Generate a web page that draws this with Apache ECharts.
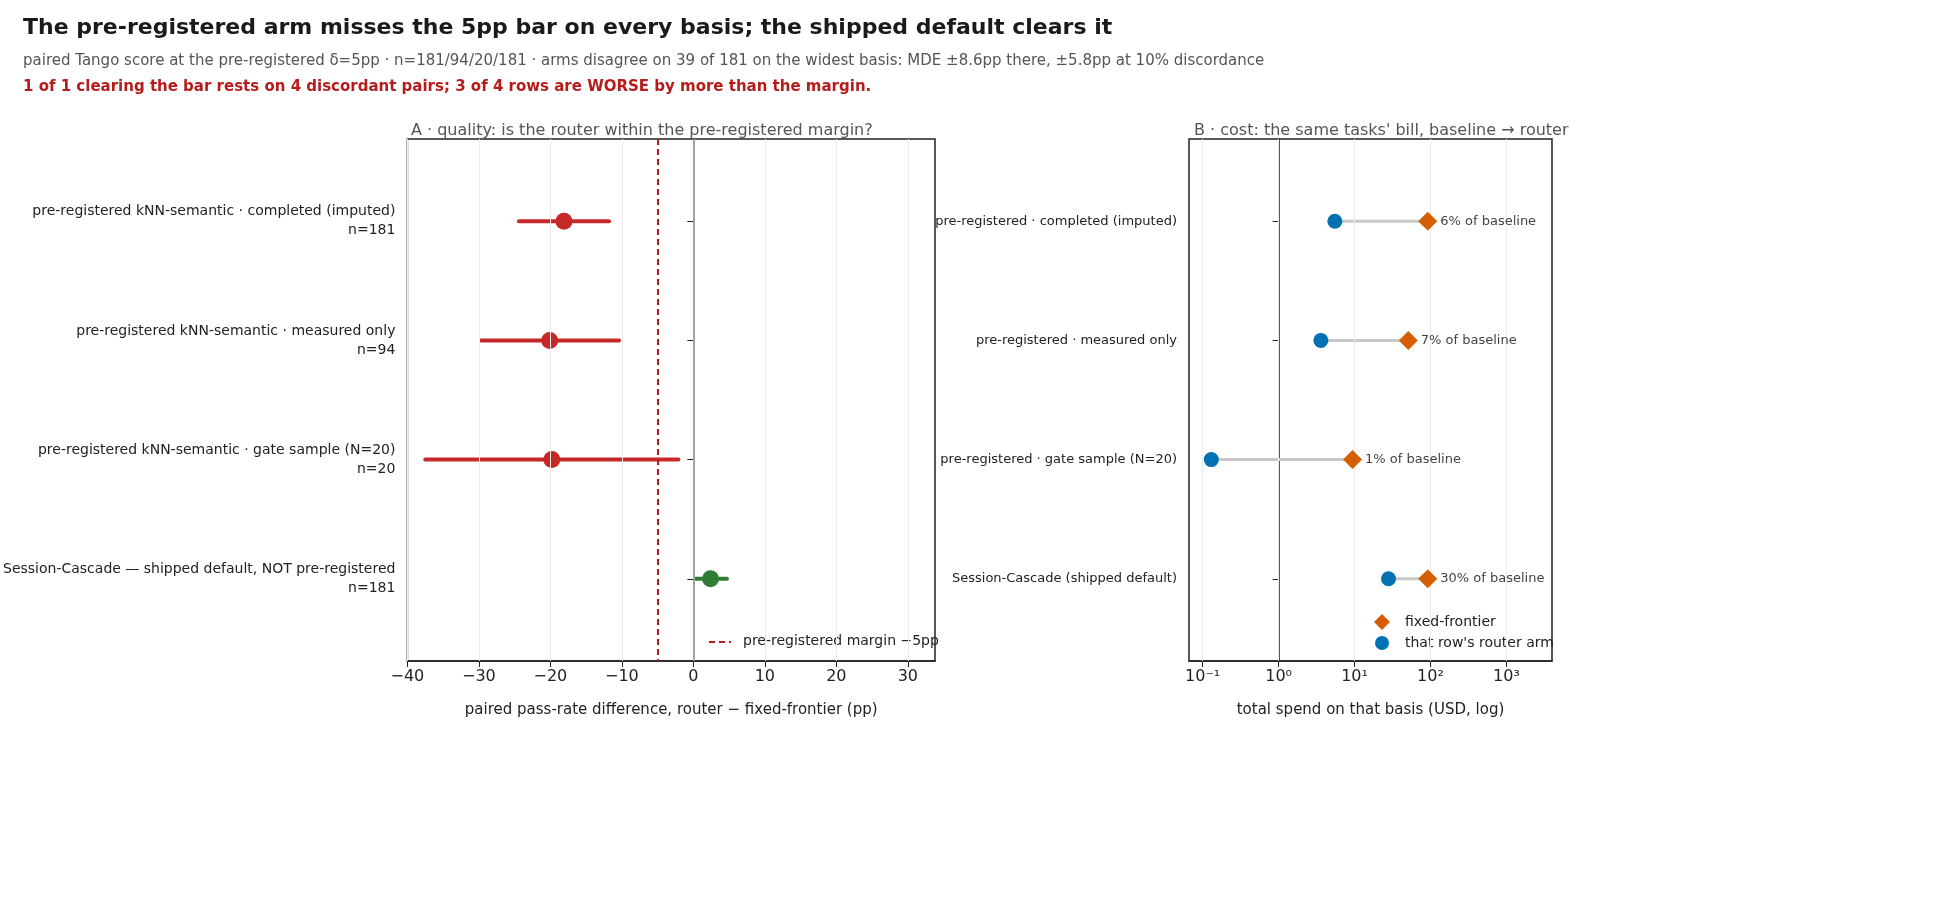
<!DOCTYPE html>
<html><head><meta charset="utf-8">
<script src="https://cdn.jsdelivr.net/npm/echarts@6/dist/echarts.min.js"></script>
<style>html,body{margin:0;padding:0;background:#fff}#c{width:1950px;height:900px}</style>
</head><body><div id="c"></div>
<script>
const rowsA = ['pre-registered kNN-semantic · completed (imputed)\nn=181','pre-registered kNN-semantic · measured only\nn=94','pre-registered kNN-semantic · gate sample (N=20)\nn=20','Session-Cascade — shipped default, NOT pre-registered\nn=181'];
const rowsB = ['pre-registered · completed (imputed)','pre-registered · measured only','pre-registered · gate sample (N=20)','Session-Cascade (shipped default)'];
const diffPoint = [-18.1, -20.1, -19.8, 2.4];
const diffLo = [-24.4, -29.7, -37.5, 0.3];
const diffHi = [-11.8, -10.4, -2.1, 4.7];
const verdicts = ['inferior  (b=3, c=36)','inferior  (b=3, c=22)','inferior  (b=0, c=4)','non-inferior  (b=4, c=0)'];
const margin = -5;
const routerCost = [5.5, 3.6, 0.13, 28];
const frontierCost = [92, 51, 9.4, 92];
const pctLabels = ['6% of baseline','7% of baseline','1% of baseline','30% of baseline'];
const xTicksA = [-40,-30,-20,-10,0,10,20,30];
const xTicksB = [0.1,1,10,100,1000];
const xTickLabelsB = ['10⁻¹','10⁰','10¹','10²','10³'];

const RED='#c62828', GREEN='#2e7d32', BLUE='#0072b2', ORANGE='#d55e00';
const L = v => Math.log10(v);
const font = 'DejaVu Sans';
const series = [];
rowsA.forEach((r,i)=>{
  const c = i===3 ? GREEN : RED;
  series.push({type:'line',xAxisIndex:0,yAxisIndex:0,data:[[diffLo[i],i],[diffHi[i],i]],symbol:'none',lineStyle:{color:c,width:4,cap:'round'},z:3});
  series.push({type:'scatter',xAxisIndex:0,yAxisIndex:0,data:[[diffPoint[i],i]],symbolSize:17,itemStyle:{color:c,opacity:1},z:4});
  series.push({type:'scatter',xAxisIndex:0,yAxisIndex:0,data:[[Math.max(diffHi[i],margin),i]],symbolSize:1,itemStyle:{opacity:0},
    label:{show:true,position:'right',distance:7,formatter:verdicts[i],color:c,fontFamily:font,fontSize:13}});
});
series.push({type:'line',xAxisIndex:0,yAxisIndex:0,data:[],markLine:{silent:true,symbol:'none',label:{show:false},
  data:[{xAxis:margin,lineStyle:{color:'#b71c1c',type:[6,4],width:2}},{xAxis:0,lineStyle:{color:'#bbb',type:'solid',width:1.5}}].concat(
    xTicksA.filter(v=>v!==0).map(v=>({xAxis:v,lineStyle:{color:'#ececec',type:'solid',width:1}})))}});
series.push({type:'line',xAxisIndex:1,yAxisIndex:1,data:[],markLine:{silent:true,symbol:'none',label:{show:false},
  data:xTicksB.map(v=>({xAxis:L(v),lineStyle:{color:'#ececec',type:'solid',width:1}}))}});
rowsB.forEach((r,i)=>{
  series.push({type:'line',xAxisIndex:1,yAxisIndex:1,data:[[L(routerCost[i]),i],[L(frontierCost[i]),i]],symbol:'none',lineStyle:{color:'#c8c8c8',width:3},z:2});
});
series.push({type:'scatter',xAxisIndex:1,yAxisIndex:1,data:routerCost.map((v,i)=>[L(v),i]),symbolSize:15,itemStyle:{color:BLUE,opacity:1},z:4});
series.push({type:'scatter',xAxisIndex:1,yAxisIndex:1,data:frontierCost.map((v,i)=>[L(v),i]),symbol:'diamond',symbolSize:[19,19],itemStyle:{color:ORANGE,opacity:1},z:5,
  label:{show:true,position:'right',distance:3,formatter:p=>pctLabels[p.dataIndex],color:'#444',fontFamily:font,fontSize:13}});

const yBase = {type:'value',inverse:true,min:-0.69,max:3.69,splitLine:{show:false},
  axisLine:{show:true,lineStyle:{color:'#222',width:1.5}},
  axisTick:{show:true,length:6,lineStyle:{color:'#222'},customValues:[0,1,2,3]}};
const opt = {
  animation:false,
  textStyle:{fontFamily:font},
  title:[
    {text:'The pre-registered arm misses the 5pp bar on every basis; the shipped default clears it',left:18,top:12,textStyle:{fontSize:22,fontWeight:'bold',color:'#1a1a1a',fontFamily:font}},
    {text:'paired Tango score at the pre-registered δ=5pp · n=181/94/20/181 · arms disagree on 39 of 181 on the widest basis: MDE ±8.6pp there, ±5.8pp at 10% discordance',left:18,top:49,textStyle:{fontSize:15,fontWeight:'normal',color:'#555',fontFamily:font}},
    {text:'1 of 1 clearing the bar rests on 4 discordant pairs; 3 of 4 rows are WORSE by more than the margin.',left:18,top:75,textStyle:{fontSize:15,fontWeight:'bold',color:'#b71c1c',fontFamily:font}},
    {text:'A · quality: is the router within the pre-registered margin?',left:406,top:118,textStyle:{fontSize:16,fontWeight:'normal',color:'#555',fontFamily:font}},
    {text:'B · cost: the same tasks\' bill, baseline → router',left:1189,top:118,textStyle:{fontSize:16,fontWeight:'normal',color:'#555',fontFamily:font}}
  ],
  grid:[
    {left:406,top:139,width:529,height:522,show:true,borderColor:'#222',borderWidth:1.5,backgroundColor:'transparent'},
    {left:1189,top:139,width:363,height:522,show:true,borderColor:'#222',borderWidth:1.5,backgroundColor:'transparent'}
  ],
  xAxis:[
    {gridIndex:0,type:'value',min:-40,max:33.8,splitLine:{show:false},
     axisLine:{show:true,onZero:false,lineStyle:{color:'#222',width:1.5}},
     axisTick:{show:true,length:6,lineStyle:{color:'#222'},customValues:xTicksA},
     axisLabel:{customValues:xTicksA,color:'#222',fontSize:16,fontFamily:font,margin:8,formatter:v=>String(v).replace('-','−')},
     name:'paired pass-rate difference, router − fixed-frontier (pp)',nameLocation:'middle',nameGap:42,nameTextStyle:{fontSize:15,color:'#222',fontFamily:font}},
    {gridIndex:1,type:'value',min:-1.18,max:3.6,splitLine:{show:false},
     axisLine:{show:true,onZero:false,lineStyle:{color:'#222',width:1.5}},
     axisTick:{show:true,length:6,lineStyle:{color:'#222'},customValues:xTicksB.map(L)},
     axisLabel:{customValues:xTicksB.map(L),color:'#222',fontSize:16,fontFamily:font,margin:8,formatter:v=>xTickLabelsB[xTicksB.map(L).findIndex(t=>Math.abs(t-v)<1e-6)]||''},
     name:'total spend on that basis (USD, log)',nameLocation:'middle',nameGap:42,nameTextStyle:{fontSize:15,color:'#222',fontFamily:font}}
  ],
  yAxis:[
    Object.assign({},yBase,{gridIndex:0,axisLabel:{customValues:[0,1,2,3],formatter:v=>rowsA[Math.round(v)],align:'right',color:'#222',fontSize:14,lineHeight:19,fontFamily:font,margin:12}}),
    Object.assign({},yBase,{gridIndex:1,axisLabel:{customValues:[0,1,2,3],formatter:v=>rowsB[Math.round(v)],align:'right',color:'#222',fontSize:13,fontFamily:font,margin:12}})
  ],
  graphic:[
    {type:'line',shape:{x1:709,y1:642,x2:731,y2:642},style:{stroke:'#b71c1c',lineWidth:2,lineDash:[6,4]}},
    {type:'text',x:743,y:634,style:{text:'pre-registered margin −5pp',fontSize:14,fill:'#222',fontFamily:font}},
    {type:'polygon',shape:{points:[[1382,614],[1390,622],[1382,630],[1374,622]]},style:{fill:ORANGE}},
    {type:'text',x:1405,y:615,style:{text:'fixed-frontier',fontSize:14,fill:'#222',fontFamily:font}},
    {type:'circle',shape:{cx:1382,cy:643,r:7},style:{fill:BLUE}},
    {type:'text',x:1405,y:636,style:{text:"that row's router arm",fontSize:14,fill:'#222',fontFamily:font}}
  ],
  series
};
echarts.init(document.getElementById('c')).setOption(opt);
</script></body></html>
